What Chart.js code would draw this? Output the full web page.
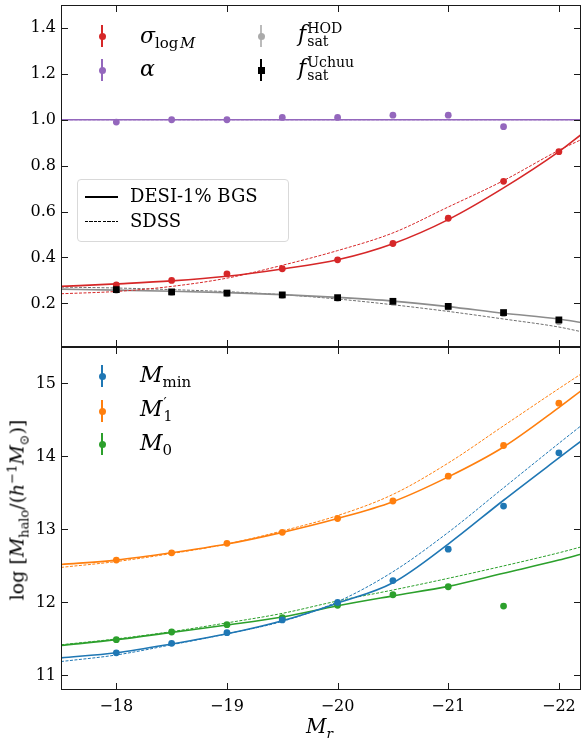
<!DOCTYPE html>
<html>
<head>
<meta charset="utf-8">
<script src="https://cdn.jsdelivr.net/npm/chart.js@4.4.1/dist/chart.umd.min.js"></script>
<style>
  body { margin: 0; background: #fff; overflow: hidden; }
  #fig { position: relative; width: 582px; height: 739px; font-family: "DejaVu Serif", serif; color: #000; }
  canvas { position: absolute; left: 0; }
  .lab { position: absolute; white-space: nowrap; line-height: 1; }
  .mi { font-style: italic; }
  .eb { position: absolute; width: 2px; }
  .dot { position: absolute; width: 7px; height: 7px; border-radius: 50%; }
  .sq { position: absolute; width: 7px; height: 7px; }
  .ss { display: inline-flex; flex-direction: column; vertical-align: middle; font-size: 0.64em; line-height: 0.95; margin-left: 1px; }
  sub, sup { font-size: 0.68em; line-height: 0; }
</style>
</head>
<body>
<div id="fig">
  <canvas id="cTop" width="582" height="350" style="top:0"></canvas>
  <canvas id="cBot" width="582" height="399" style="top:340px"></canvas>

  <!-- top legend (markers + labels) -->
  <div class="eb" style="left:101px;top:25px;height:22px;background:#d62728"></div>
  <div class="dot" style="left:98.5px;top:32.5px;background:#d62728"></div>
  <div class="lab" style="left:140px;top:25px;font-size:22px"><span class="mi">σ</span><sub>log&#8202;<span class="mi">M</span></sub></div>

  <div class="eb" style="left:101px;top:59px;height:22px;background:#9467bd"></div>
  <div class="dot" style="left:98.5px;top:66.5px;background:#9467bd"></div>
  <div class="lab mi" style="left:140px;top:58px;font-size:22px">α</div>

  <div class="eb" style="left:260px;top:25px;height:22px;background:#bbbbbb"></div>
  <div class="dot" style="left:257.5px;top:32.5px;background:#aaaaaa"></div>
  <div class="lab" style="left:298px;top:22px;font-size:22px"><span class="mi">f</span><span class="ss"><span>HOD</span><span>sat</span></span></div>

  <div class="eb" style="left:260px;top:59px;height:22px;background:#000"></div>
  <div class="sq" style="left:257.5px;top:66.5px;background:#000"></div>
  <div class="lab" style="left:298px;top:56px;font-size:22px"><span class="mi">f</span><span class="ss"><span>Uchuu</span><span>sat</span></span></div>

  <!-- line style legend -->
  <div style="position:absolute;left:77px;top:179px;width:210px;height:61px;border:1px solid #d9d9d9;border-radius:4px;background:rgba(255,255,255,0.85)"></div>
  <div style="position:absolute;left:85px;top:196px;width:33px;height:1.5px;background:#000"></div>
  <div class="lab" style="left:130px;top:187px;font-size:18px">DESI-1% BGS</div>
  <div style="position:absolute;left:85px;top:221px;width:33px;height:1px;background:repeating-linear-gradient(90deg,#000 0 3px,transparent 3px 4.5px)"></div>
  <div class="lab" style="left:130px;top:212px;font-size:18px">SDSS</div>

  <!-- bottom legend -->
  <div class="eb" style="left:101px;top:365px;height:22px;background:#1f77b4"></div>
  <div class="dot" style="left:98.5px;top:372.5px;background:#1f77b4"></div>
  <div class="lab" style="left:140px;top:364px;font-size:22px"><span class="mi">M</span><sub>min</sub></div>

  <div class="eb" style="left:101px;top:400px;height:22px;background:#ff7f0e"></div>
  <div class="dot" style="left:98.5px;top:407.5px;background:#ff7f0e"></div>
  <div class="lab" style="left:140px;top:397px;font-size:22px"><span class="mi">M</span><span class="ss"><span>′</span><span>1</span></span></div>

  <div class="eb" style="left:101px;top:433px;height:22px;background:#2ca02c"></div>
  <div class="dot" style="left:98.5px;top:440.5px;background:#2ca02c"></div>
  <div class="lab" style="left:140px;top:432px;font-size:22px"><span class="mi">M</span><sub>0</sub></div>

  <!-- axis titles -->
  <div class="lab" style="left:17px;top:510px;font-size:19px;transform:translate(-50%,-50%) rotate(-90deg)">log [<span class="mi">M</span><sub>halo</sub>/(<span class="mi">h</span><sup>−1</sup><span class="mi">M</span><sub>⊙</sub>)]</div>
  <div class="lab" style="left:306px;top:716px;font-size:20px"><span class="mi">M</span><sub class="mi">r</sub></div>
</div>

<script>
// magnitude bins and the x positions where the fitted curves were read
const magBins = [-18, -18.5, -19, -19.5, -20, -20.5, -21, -21.5, -22];
const curveX = [-17.5, -18, -18.5, -19, -19.5, -20, -20.5, -21, -21.5, -22, -22.2];

// top panel
const sigmaPts = [0.281, 0.30, 0.329, 0.351, 0.39, 0.461, 0.571, 0.732, 0.861];
const alphaPts = [0.99, 1.0, 1.0, 1.01, 1.01, 1.02, 1.02, 0.97];
const fsatHodPts = [0.257, 0.247, 0.242, 0.234, 0.222, 0.205, 0.183, 0.155, 0.12];
const fsatUchuuPts = [0.26, 0.25, 0.245, 0.237, 0.225, 0.209, 0.187, 0.16, 0.128];
const fsatUchuuErr = [0.01, 0.01, 0.01, 0.01, 0.01, 0.01, 0.01, 0.01, 0.01];

const sigmaDesi = [0.274, 0.285, 0.298, 0.318, 0.35, 0.39, 0.46, 0.565, 0.703, 0.861, 0.935];
const sigmaSdss = [0.242, 0.252, 0.274, 0.31, 0.366, 0.43, 0.507, 0.62, 0.735, 0.867, 0.913];
const alphaDesi = [1, 1, 1, 1, 1, 1, 1, 1, 1, 1, 1];
const alphaSdss = [1, 1, 1, 1, 1, 1, 1, 1, 1, 1, 1];
const fsatDesi = [0.262, 0.258, 0.253, 0.247, 0.238, 0.226, 0.21, 0.186, 0.157, 0.132, 0.117];
const fsatSdss = [0.271, 0.267, 0.26, 0.251, 0.238, 0.219, 0.194, 0.165, 0.132, 0.097, 0.077];

// bottom panel
const mminPts = [11.31, 11.44, 11.585, 11.76, 12.0, 12.30, 12.73, 13.32, 14.05];
const m1Pts = [12.58, 12.68, 12.81, 12.96, 13.15, 13.39, 13.73, 14.15, 14.73];
const m0Pts = [11.49, 11.595, 11.695, 11.79, 11.96, 12.105, 12.215, 11.95];

const mminDesi = [11.24, 11.31, 11.43, 11.57, 11.75, 11.99, 12.27, 12.8, 13.4, 13.98, 14.21];
const mminSdss = [11.19, 11.28, 11.42, 11.57, 11.74, 12.01, 12.42, 12.96, 13.57, 14.18, 14.42];
const m1Desi = [12.52, 12.58, 12.68, 12.80, 12.96, 13.15, 13.38, 13.72, 14.13, 14.67, 14.90];
const m1Sdss = [12.48, 12.56, 12.67, 12.80, 12.98, 13.19, 13.48, 13.91, 14.42, 14.93, 15.13];
const m0Desi = [11.41, 11.49, 11.59, 11.69, 11.80, 11.955, 12.09, 12.22, 12.40, 12.58, 12.66];
const m0Sdss = [11.42, 11.50, 11.60, 11.72, 11.85, 12.02, 12.17, 12.33, 12.50, 12.68, 12.76];

// tick labels
const xTicks = [-18, -19, -20, -21, -22];
const yTopTicks = [0.2, 0.4, 0.6, 0.8, 1.0, 1.2, 1.4];
const yBotTicks = [11, 12, 13, 14, 15];

const FONT = "DejaVu Serif";

function pairs(xs, ys) {
  return ys.map((y, i) => ({ x: xs[i], y }));
}

function curve(ys, color, dashed) {
  return {
    data: pairs(curveX, ys),
    showLine: true,
    borderColor: color,
    borderWidth: dashed ? 1 : 1.6,
    borderDash: dashed ? [3, 1.5] : [],
    pointRadius: 0,
    cubicInterpolationMode: "monotone",
    fill: false,
    order: 2
  };
}

function points(ys, color, style, errors) {
  return {
    data: pairs(magBins, ys),
    pointStyle: style || "circle",
    pointRadius: style === "rect" ? 4.8 : 3.4,
    pointBackgroundColor: color,
    pointBorderWidth: 0,
    borderColor: color,
    showLine: false,
    errors: errors,
    order: 1
  };
}

/* box round the plot with inward ticks on all four sides */
const framePlugin = {
  id: "frame",
  afterDraw(chart) {
    const { ctx, chartArea: a, scales } = chart;
    const L = 7;
    ctx.save();
    ctx.strokeStyle = "#1a1a1a";
    ctx.lineWidth = 1;
    ctx.strokeRect(a.left + 0.5, a.top + 0.5, a.right - a.left - 1, a.bottom - a.top - 1);
    ctx.beginPath();
    scales.x.ticks.forEach(t => {
      const px = Math.round(scales.x.getPixelForValue(t.value)) + 0.5;
      ctx.moveTo(px, a.top); ctx.lineTo(px, a.top + L);
      ctx.moveTo(px, a.bottom); ctx.lineTo(px, a.bottom - L);
    });
    scales.y.ticks.forEach(t => {
      const py = Math.round(scales.y.getPixelForValue(t.value)) + 0.5;
      ctx.moveTo(a.left, py); ctx.lineTo(a.left + L, py);
      ctx.moveTo(a.right, py); ctx.lineTo(a.right - L, py);
    });
    ctx.stroke();
    ctx.restore();
  }
};

/* vertical error bars for datasets that carry an errors array */
const errorPlugin = {
  id: "errbars",
  afterDatasetsDraw(chart) {
    const { ctx, scales } = chart;
    ctx.save();
    chart.data.datasets.forEach(ds => {
      if (!ds.errors) return;
      ctx.strokeStyle = ds.borderColor;
      ctx.lineWidth = 1.5;
      ctx.beginPath();
      ds.data.forEach((p, i) => {
        const px = scales.x.getPixelForValue(p.x);
        ctx.moveTo(px, scales.y.getPixelForValue(p.y - ds.errors[i]));
        ctx.lineTo(px, scales.y.getPixelForValue(p.y + ds.errors[i]));
      });
      ctx.stroke();
    });
    ctx.restore();
  }
};

function xAxis(labels) {
  return {
    type: "linear",
    min: -22.2,
    max: -17.5,
    reverse: true,
    display: labels,
    afterBuildTicks: s => { s.ticks = xTicks.map(v => ({ value: v })); },
    grid: { display: false, drawTicks: false },
    border: { display: false },
    ticks: {
      color: "#000",
      padding: 7,
      font: { family: FONT, size: 16 },
      callback: v => String(v).replace("-", "\u2212")
    },
    afterFit: s => {
      s.height = labels ? 49 : 0;
      s.paddingLeft = 0;
      s.paddingRight = 0;
    }
  };
}

function yAxis(min, max, ticks, fmt) {
  return {
    type: "linear",
    min, max,
    afterBuildTicks: s => { s.ticks = ticks.map(v => ({ value: v })); },
    grid: { display: false, drawTicks: false },
    border: { display: false },
    ticks: {
      color: "#000",
      padding: 5,
      font: { family: FONT, size: 16 },
      callback: fmt
    },
    afterFit: s => {
      s.width = 61;
      s.paddingTop = 0;
      s.paddingBottom = 0;
    }
  };
}

const common = {
  responsive: false,
  animation: false,
  devicePixelRatio: 1,
  plugins: { legend: { display: false }, tooltip: { enabled: false } }
};

new Chart(document.getElementById("cTop"), {
  type: "scatter",
  data: {
    datasets: [
      points(fsatUchuuPts, "#000000", "rect", fsatUchuuErr),
      points(fsatHodPts, "#aaaaaa"),
      points(sigmaPts, "#d62728"),
      points(alphaPts, "#9467bd"),
      curve(sigmaDesi, "#d62728", false),
      curve(sigmaSdss, "#d62728", true),
      curve(alphaDesi, "#9467bd", false),
      curve(alphaSdss, "#9467bd", true),
      curve(fsatDesi, "#8c8c8c", false),
      curve(fsatSdss, "#707070", true)
    ]
  },
  options: {
    ...common,
    layout: { autoPadding: false, padding: { top: 5, right: 1, bottom: 3, left: 0 } },
    scales: {
      x: xAxis(false),
      y: yAxis(0.01, 1.5, yTopTicks, v => v.toFixed(1))
    }
  },
  plugins: [framePlugin, errorPlugin]
});

new Chart(document.getElementById("cBot"), {
  type: "scatter",
  data: {
    datasets: [
      points(mminPts, "#1f77b4"),
      points(m1Pts, "#ff7f0e"),
      points(m0Pts, "#2ca02c"),
      curve(mminDesi, "#1f77b4", false),
      curve(mminSdss, "#1f77b4", true),
      curve(m1Desi, "#ff7f0e", false),
      curve(m1Sdss, "#ff7f0e", true),
      curve(m0Desi, "#2ca02c", false),
      curve(m0Sdss, "#2ca02c", true)
    ]
  },
  options: {
    ...common,
    layout: { autoPadding: false, padding: { top: 7, right: 1, bottom: 0, left: 0 } },
    scales: {
      x: xAxis(true),
      y: yAxis(10.8, 15.5, yBotTicks, v => String(v))
    }
  },
  plugins: [framePlugin, errorPlugin]
});
</script>
</body>
</html>
